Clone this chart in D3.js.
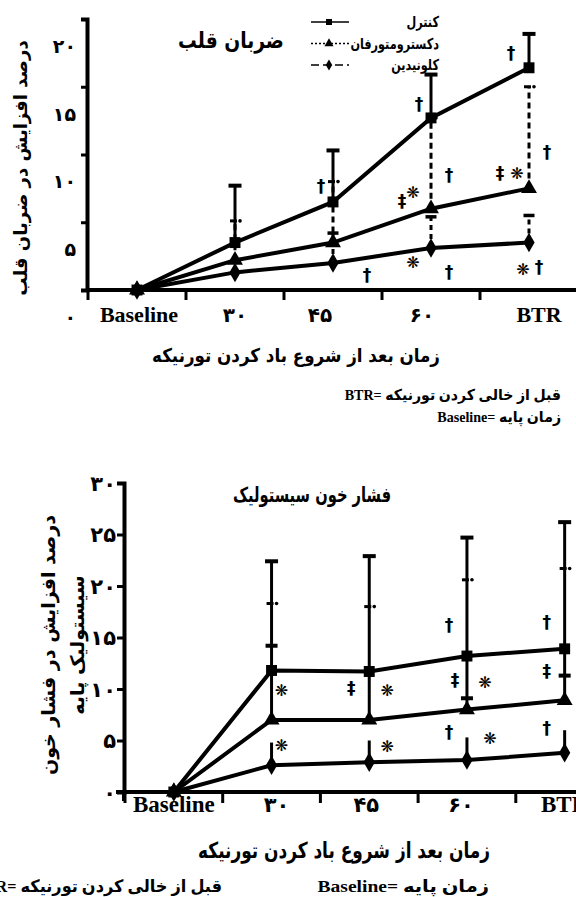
<!DOCTYPE html>
<html>
<head>
<meta charset="utf-8">
<script src="https://cdn.jsdelivr.net/npm/d3@7"></script>
<style>
  body { margin: 0; background: #fff; }
  svg { display: block; }
  text { font-weight: bold; fill: #000; }
</style>
</head>
<body>
<div id="chart"></div>
<script>
// categories along x, same for both charts
const categories = ["Baseline", "۳۰", "۴۵", "۶۰", "BTR"];
const seriesNames = ["کنترل", "دکسترومتورفان", "کلونیدین"];

// heart rate (top chart), % increase
const hrTicks = [0, 5, 10, 15, 20];
const hrControl = [0, 3.5, 6.5, 12.7, 16.4];
const hrControlSD = [null, 7.7, 10.3, 15.9, 18.9];
const hrDextro = [0, 2.2, 3.5, 6.0, 7.5];
const hrDextroSD = [null, 5.1, 8.0, 12.7, 15.0];
const hrClonidine = [0, 1.3, 2.0, 3.1, 3.5];
const hrClonidineSD = [null, null, 4.2, 5.4, 5.5];
const hrMarks = [
  {c: "BTR", v: 17.5, s: "†", at: "L2"},
  {c: "۶۰", v: 13.7, s: "†", at: "L1"},
  {c: "BTR", v: 10.2, s: "†", at: "R2"},
  {c: "۴۵", v: 7.7, s: "†", at: "L1"},
  {c: "۶۰", v: 6.6, s: "‡", at: "L3"},
  {c: "۶۰", v: 7.2, s: "❋", at: "L2"},
  {c: "۶۰", v: 8.5, s: "†", at: "R2"},
  {c: "BTR", v: 8.6, s: "‡", at: "L3"},
  {c: "BTR", v: 8.6, s: "❋", at: "L1"},
  {c: "۴۵", v: 1.1, s: "†", at: "R4"},
  {c: "۶۰", v: 2.0, s: "❋", at: "L2"},
  {c: "۶۰", v: 1.3, s: "†", at: "R2"},
  {c: "BTR", v: 1.5, s: "❋", at: "L0"},
  {c: "BTR", v: 1.7, s: "†", at: "R1"}
];

// systolic blood pressure (bottom chart), % increase
const bpTicks = [0, 5, 10, 15, 20, 25, 30];
const bpControl = [0, 11.8, 11.7, 13.2, 13.9];
const bpControlSD = [null, 22.4, 22.9, 24.7, 26.2];
const bpDextro = [0, 7.0, 7.0, 8.0, 8.9];
const bpDextroSD = [null, 18.3, 18.0, 20.6, 21.7];
const bpClonidine = [0, 2.6, 2.9, 3.1, 3.8];
const bpClonidineSD = [null, 4.8, 5.0, 5.3, 6.0];
const bpCaps = [null, 14.2, null, 9.1, 11.3];
const bpMarks = [
  {c: "۳۰", v: 9.9, s: "❋", at: "R1"},
  {c: "۳۰", v: 4.5, s: "❋", at: "R1"},
  {c: "۴۵", v: 10.1, s: "‡", at: "L2"},
  {c: "۴۵", v: 9.9, s: "❋", at: "R2"},
  {c: "۴۵", v: 4.4, s: "❋", at: "R2"},
  {c: "۶۰", v: 16.2, s: "†", at: "L2"},
  {c: "۶۰", v: 10.9, s: "‡", at: "L1"},
  {c: "۶۰", v: 10.6, s: "❋", at: "R2"},
  {c: "۶۰", v: 5.8, s: "†", at: "L2"},
  {c: "۶۰", v: 5.2, s: "❋", at: "R3"},
  {c: "BTR", v: 16.5, s: "†", at: "L2"},
  {c: "BTR", v: 11.7, s: "‡", at: "L2"},
  {c: "BTR", v: 6.2, s: "†", at: "L2"}
];

const W = 576, H = 897;
const FA = "'DejaVu Sans', sans-serif";
const SERIF = "'Liberation Serif', 'DejaVu Sans', serif";
const persian = n => String(n).replace(/\d/g, d => "۰۱۲۳۴۵۶۷۸۹"[d]);
const markOffset = {L3: -29, L2: -18, L1: -12, L0: -6, R1: 10, R2: 18, R3: 23, R4: 34};
const symbols = [d3.symbolSquare, d3.symbolTriangle, d3.symbolDiamond];

const svg = d3.select("#chart").append("svg")
    .attr("width", W)
    .attr("height", H);

// persian text, squeezed sideways a little to look like the narrow original face
function faText(g, x, y, str, size, sx, anchor, family) {
  return g.append("text")
      .attr("transform", `translate(${x},${y}) scale(${sx},1)`)
      .attr("text-anchor", anchor || "middle")
      .attr("font-family", family || FA)
      .attr("font-size", size)
      .text(str);
}

function drawPanel(o) {
  const g = svg.append("g");
  const x = d3.scaleBand().domain(categories).range(o.xRange);
  const y = d3.scaleLinear().domain([0, d3.max(o.yTicks)]).range(o.yRange);
  const cx = c => x(c) + x.bandwidth() / 2;

  // y axis
  const ya = g.append("g")
      .attr("transform", `translate(${o.xRange[0] - 1},0)`)
      .call(d3.axisLeft(y).tickValues(o.yTicks).tickSize(o.tickLen)
        .tickSizeOuter(o.tickLen).tickFormat(persian));
  ya.select(".domain").attr("stroke-width", 4);
  ya.selectAll(".tick line").attr("stroke-width", 3);
  ya.selectAll(".tick text")
      .attr("font-family", FA)
      .attr("font-size", o.yFont)
      .attr("font-weight", "bold")
      .attr("dy", o.yLabelDy)
      .attr("x", -o.tickLen - o.yLabelPad);
  if (o.yExtend) {
    g.append("line")
        .attr("x1", o.xRange[0] - 1).attr("x2", o.xRange[0] - 1)
        .attr("y1", o.yRange[0]).attr("y2", o.yRange[0] + o.yExtend)
        .attr("stroke", "#000").attr("stroke-width", 4);
  }

  // x axis
  const x0 = o.yRange[0];
  g.append("line")
      .attr("x1", o.xAxisStart).attr("x2", W)
      .attr("y1", x0).attr("y2", x0)
      .attr("stroke", "#000").attr("stroke-width", 4);
  g.selectAll(".xtick").data(categories).join("line")
      .attr("x1", d => x(d)).attr("x2", d => x(d))
      .attr("y1", x0).attr("y2", x0 + o.tickLen + 4)
      .attr("stroke", "#000").attr("stroke-width", 3);
  g.selectAll(".xlab").data(categories).join("text")
      .attr("x", (d, i) => cx(d) + o.labelNudge[i])
      .attr("y", x0 + o.xLabelDy)
      .attr("text-anchor", "middle")
      .attr("font-family", d => /[A-Za-z]/.test(d) ? SERIF : FA)
      .attr("font-size", d => /[A-Za-z]/.test(d) ? o.xFont : o.xFont - 2)
      .text(d => d);

  // error bars
  const bar = (c, v1, v2, w, dash) => g.append("line")
      .attr("x1", cx(c)).attr("x2", cx(c))
      .attr("y1", y(v1)).attr("y2", y(v2))
      .attr("stroke", "#000").attr("stroke-width", w)
      .attr("stroke-dasharray", dash || null);
  const cap = (c, v, w, t) => g.append("rect")
      .attr("x", cx(c) - w / 2).attr("y", y(v) - t / 2)
      .attr("width", w).attr("height", t).attr("fill", "#000");
  const dotCap = (c, v) => {
    g.append("rect").attr("x", cx(c) - 5).attr("y", y(v) - 1.5)
        .attr("width", 7).attr("height", 3).attr("fill", "#000");
    g.append("circle").attr("cx", cx(c) + 5).attr("cy", y(v)).attr("r", 1.8).attr("fill", "#000");
  };
  o.errors(bar, cap, dotCap);

  // series lines and markers
  const line = d3.line()
      .x((d, i) => cx(categories[i]))
      .y(d => y(d));
  o.series.forEach((s, k) => {
    g.append("path")
        .datum(s)
        .attr("fill", "none")
        .attr("stroke", "#000")
        .attr("stroke-width", 4)
        .attr("d", line);
    g.selectAll(null).data(s).join("path")
        .attr("transform", (d, i) => `translate(${cx(categories[i])},${y(d)})`)
        .attr("d", d3.symbol(symbols[k], k === 0 ? 120 : 110))
        .attr("fill", "#000");
  });

  // significance marks
  g.selectAll(".mark").data(o.marks).join("text")
      .attr("x", d => cx(d.c) + markOffset[d.at])
      .attr("y", d => y(d.v))
      .attr("dominant-baseline", "central")
      .attr("text-anchor", "middle")
      .attr("font-family", FA)
      .attr("font-size", d => d.s === "❋" ? 16 : 17)
      .attr("fill", d => d.s === "❋" ? "#333" : "#000")
      .text(d => d.s);

  return {x, y, g};
}

// ---------- top chart: heart rate ----------
const hrPanel = drawPanel({
  xRange: [88, 578], yRange: [290, 19], yTicks: hrTicks,
  tickLen: 6, yFont: 19, yLabelDy: "1.75em", yLabelPad: 5,
  xAxisStart: 86, xLabelDy: 32, xFont: 22, labelNudge: [2, 0, -13, -9, 10],
  series: [hrControl, hrDextro, hrClonidine],
  marks: hrMarks,
  errors: (bar, cap, dotCap) => {
    categories.forEach((c, i) => {
      if (hrDextroSD[i] != null) { bar(c, hrDextro[i], hrDextroSD[i], 3, "6,4"); dotCap(c, hrDextroSD[i]); }
      if (hrClonidineSD[i] != null) { bar(c, hrClonidine[i], hrClonidineSD[i], 3, "5,4"); cap(c, hrClonidineSD[i], 11, 3.5); }
      if (hrControlSD[i] != null) { bar(c, hrControl[i], hrControlSD[i], 3); cap(c, hrControlSD[i], 13, 4); }
    });
  }
});

faText(hrPanel.g, 231, 48, "ضربان قلب", 22, 0.85);

hrPanel.g.append("text")
    .attr("transform", "translate(27,168) rotate(-90)")
    .attr("text-anchor", "middle")
    .attr("font-family", FA).attr("font-size", 18)
    .text("درصد افزایش در ضربان قلب");

faText(hrPanel.g, 296, 362, "زمان بعد از شروع باد کردن تورنیکه", 19, 0.88);

faText(hrPanel.g, 561, 400, "BTR= قبل از خالی کردن تورنیکه", 15, 0.94, "end", SERIF);
faText(hrPanel.g, 561, 422, "Baseline= زمان پایه", 15, 0.94, "end", SERIF);

// legend
const legDash = [null, "2,2", "8,4"];
const leg = hrPanel.g.selectAll(".leg").data(seriesNames).join("g")
    .attr("transform", (d, i) => `translate(0,${22 + i * 21.5})`);
leg.append("line")
    .attr("x1", 311).attr("x2", 349)
    .attr("stroke", "#000").attr("stroke-width", 1.3)
    .attr("stroke-dasharray", (d, i) => legDash[i]);
leg.append("path")
    .attr("transform", "translate(329,0)")
    .attr("d", (d, i) => d3.symbol(symbols[i], 36)())
    .attr("fill", "#000");
leg.append("text")
    .attr("transform", "translate(439,0) scale(0.75,1)")
    .attr("dominant-baseline", "central")
    .attr("text-anchor", "end")
    .attr("font-family", FA).attr("font-size", 15)
    .text(d => d);

// ---------- bottom chart: systolic blood pressure ----------
const bpPanel = drawPanel({
  xRange: [125, 613.5], yRange: [792, 483], yTicks: bpTicks,
  tickLen: 7, yFont: 21, yLabelDy: "0.35em", yLabelPad: 1,
  yExtend: 9,
  xAxisStart: 116, xLabelDy: 20, xFont: 23, labelNudge: [0, 5, -3, -6, 0],
  series: [bpControl, bpDextro, bpClonidine],
  marks: bpMarks,
  errors: (bar, cap, dotCap) => {
    categories.forEach((c, i) => {
      if (bpControlSD[i] != null) { bar(c, bpDextro[i], bpControlSD[i], 3); cap(c, bpControlSD[i], 13, 4); }
      if (bpDextroSD[i] != null) dotCap(c, bpDextroSD[i]);
      if (bpCaps[i] != null) cap(c, bpCaps[i], 12, 4);
      if (bpClonidineSD[i] != null) bar(c, bpClonidine[i], bpClonidineSD[i], 3);
    });
  }
});

faText(bpPanel.g, 312, 502, "فشار خون سیستولیک", 21, 0.7);

const bpYLabel = bpPanel.g.append("text")
    .attr("transform", "translate(0,645) rotate(-90)")
    .attr("text-anchor", "middle")
    .attr("font-family", FA).attr("font-size", 19);
bpYLabel.append("tspan").attr("x", 0).attr("y", 55).text("درصد افزایش در فشار خون");
bpYLabel.append("tspan").attr("x", 0).attr("y", 84).text("سیستولیک پایه");

faText(bpPanel.g, 344, 858, "زمان بعد از شروع باد کردن تورنیکه", 22, 0.77);

faText(bpPanel.g, 222, 892, "BTR= قبل از خالی کردن تورنیکه", 17, 0.95, "end", SERIF);
faText(bpPanel.g, 489, 892, "Baseline= زمان پایه", 17, 1.15, "end", SERIF);
</script>
</body>
</html>
